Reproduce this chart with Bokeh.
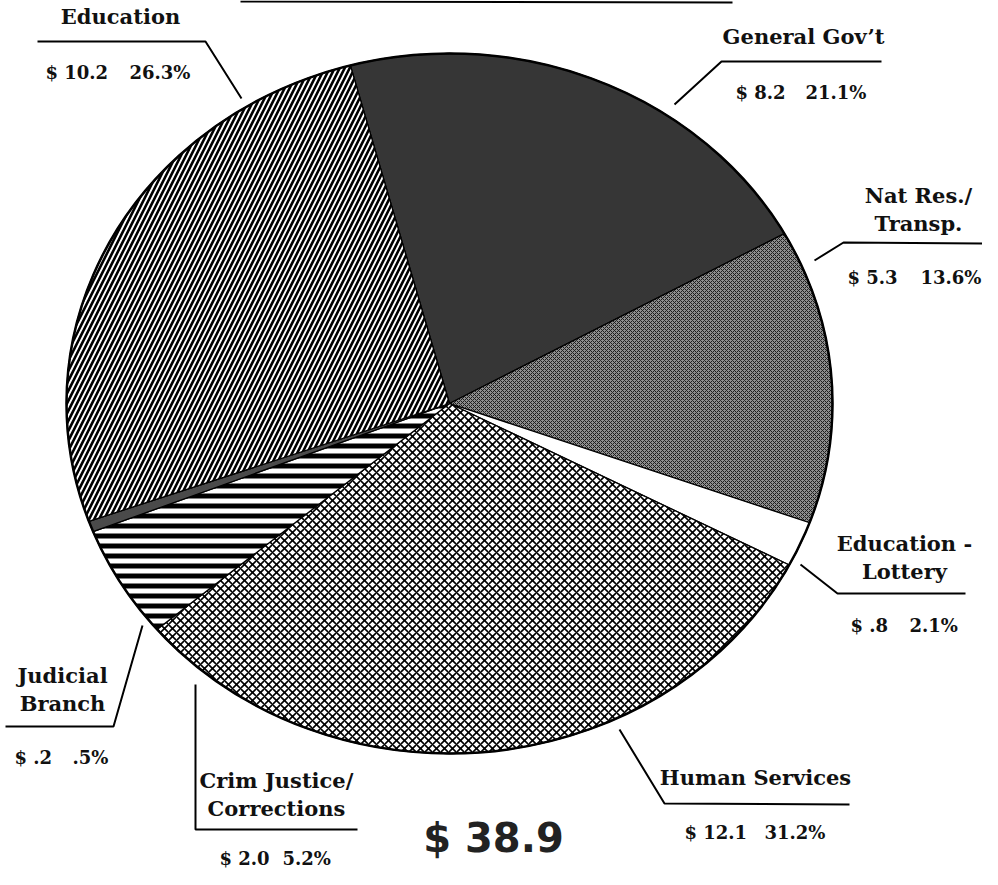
import numpy as np
from bokeh.plotting import figure
from bokeh.models import Range1d
from bokeh.core.properties import value
from bokeh.embed import file_html
from bokeh.resources import INLINE

# ---------------- data (clockwise from 12 o'clock) ----------------
categories = ["General Gov’t", "Nat Res./\nTransp.", "Education -\nLottery",
              "Human Services", "Crim Justice/\nCorrections", "Judicial\nBranch",
              "Education"]
amounts = [8.2, 5.3, 0.8, 12.1, 2.0, 0.2, 10.2]          # $ billions
percents = [21.1, 13.6, 2.1, 31.2, 5.2, 0.5, 26.3]        # share of total
total = 38.9

# ---------------- styles ----------------
styles = {
    "General Gov’t": dict(fill_color="#363636"),
    "Nat Res./\nTransp.": dict(fill_color="#8e8e8e", hatch_pattern="diagonal_cross",
                               hatch_scale=4, hatch_weight=1.0, hatch_color="#1e1e1e"),
    "Education -\nLottery": dict(fill_color="white"),
    "Human Services": dict(fill_color="white", hatch_pattern="diagonal_cross",
                           hatch_scale=8, hatch_weight=1.6, hatch_color="black"),
    "Crim Justice/\nCorrections": dict(fill_color="white", hatch_pattern="horizontal_line",
                                      hatch_scale=10, hatch_weight=5, hatch_color="black"),
    "Judicial\nBranch": dict(fill_color="#4a4a4a"),
    "Education": dict(fill_color="white", hatch_pattern="right_diagonal_line",
                      hatch_scale=10, hatch_weight=2.6, hatch_color="black"),
}

# label layout (page pixel positions; data y = -page y)
name_pos = {
    "General Gov’t": (811, 44),
    "Nat Res./\nTransp.": (926, 203),
    "Education -\nLottery": (912, 551),
    "Human Services": (763, 785),
    "Crim Justice/\nCorrections": (284, 788),
    "Judicial\nBranch": (70, 683),
    "Education": (128, 24),
}
line_gap = 28
value_pos = {  # (x of "$ ..." left, x of "..%" left, y)
    "General Gov’t": (743, 813, 100),
    "Nat Res./\nTransp.": (855, 928, 285),
    "Education -\nLottery": (858, 917, 633),
    "Human Services": (692, 772, 840),
    "Crim Justice/\nCorrections": (227, 290, 866),
    "Judicial\nBranch": (22, 80, 765),
    "Education": (53, 137, 80),
}
leaders = {
    "General Gov’t": [(682, 112), (729, 69), (889, 69)],
    "Nat Res./\nTransp.": [(822, 268), (851, 250), (990, 251)],
    "Education -\nLottery": [(808, 572), (845, 601), (973, 601)],
    "Human Services": [(627, 737), (672, 811), (857, 812)],
    "Crim Justice/\nCorrections": [(203, 692), (203, 837), (365, 837)],
    "Judicial\nBranch": [(150, 633), (121, 734), (13, 734)],
    "Education": [(249, 106), (213, 49), (45, 49)],
}

CX, CY, RX, RY = 457, -411, 383, 350
START_DEG = -15.0

SERIF = value("DejaVu Serif")

p = figure(width=982, height=869, x_range=Range1d(8, 990), y_range=Range1d(-877, -8),
           output_backend="svg", toolbar_location=None, min_border=0,
           x_axis_location=None, y_axis_location=None)
p.grid.visible = False
p.outline_line_color = None
p.background_fill_color = "white"

# slices
cum = np.concatenate([[0.0], np.cumsum(percents)])
for i, cat in enumerate(categories):
    a0 = START_DEG + cum[i] * 3.6
    a1 = START_DEG + cum[i + 1] * 3.6
    n = max(4, int((a1 - a0) * 2))
    t = np.radians(np.linspace(a0, a1, n))
    xs = [CX] + list(CX + RX * np.sin(t))
    ys = [CY] + list(CY + RY * np.cos(t))
    p.patch(xs, ys, line_color="black", line_width=1.3, **styles[cat])

# outer rim
p.ellipse(x=[CX], y=[CY], width=2 * RX, height=2 * RY, fill_color=None,
          line_color="black", line_width=2.5)

# top frame remnant
p.line([248, 740], [-9, -10], line_color="black", line_width=2)

def fmt(v):
    s = f"{v:.1f}"
    return s[1:] if s.startswith("0") else s

# labels
for i, cat in enumerate(categories):
    lx, ly = name_pos[cat]
    for k, ln in enumerate(cat.split("\n")):
        p.text(x=[lx], y=[-(ly + k * line_gap)], text=[ln], text_font=SERIF,
               text_font_style="bold", text_font_size="21px", text_align="center",
               text_baseline="middle", text_color="#111111")
    dx, px, vy = value_pos[cat]
    p.text(x=[dx], y=[-vy], text=["$ " + fmt(amounts[i])], text_font=SERIF,
           text_font_style="bold", text_font_size="18px", text_align="left",
           text_baseline="middle", text_color="#111111")
    p.text(x=[px], y=[-vy], text=[fmt(percents[i]) + "%"], text_font=SERIF,
           text_font_style="bold", text_font_size="18px", text_align="left",
           text_baseline="middle", text_color="#111111")
    pts = leaders[cat]
    p.line([q[0] for q in pts], [-q[1] for q in pts], line_color="black", line_width=2)

# total
p.text(x=[501], y=[-845], text=[f"$ {total}"], text_font=value("DejaVu Sans"),
       text_font_style="bold", text_font_size="40px", text_align="center",
       text_baseline="middle", text_color="#222222")

open("out.html", "w").write(file_html(p, INLINE))
